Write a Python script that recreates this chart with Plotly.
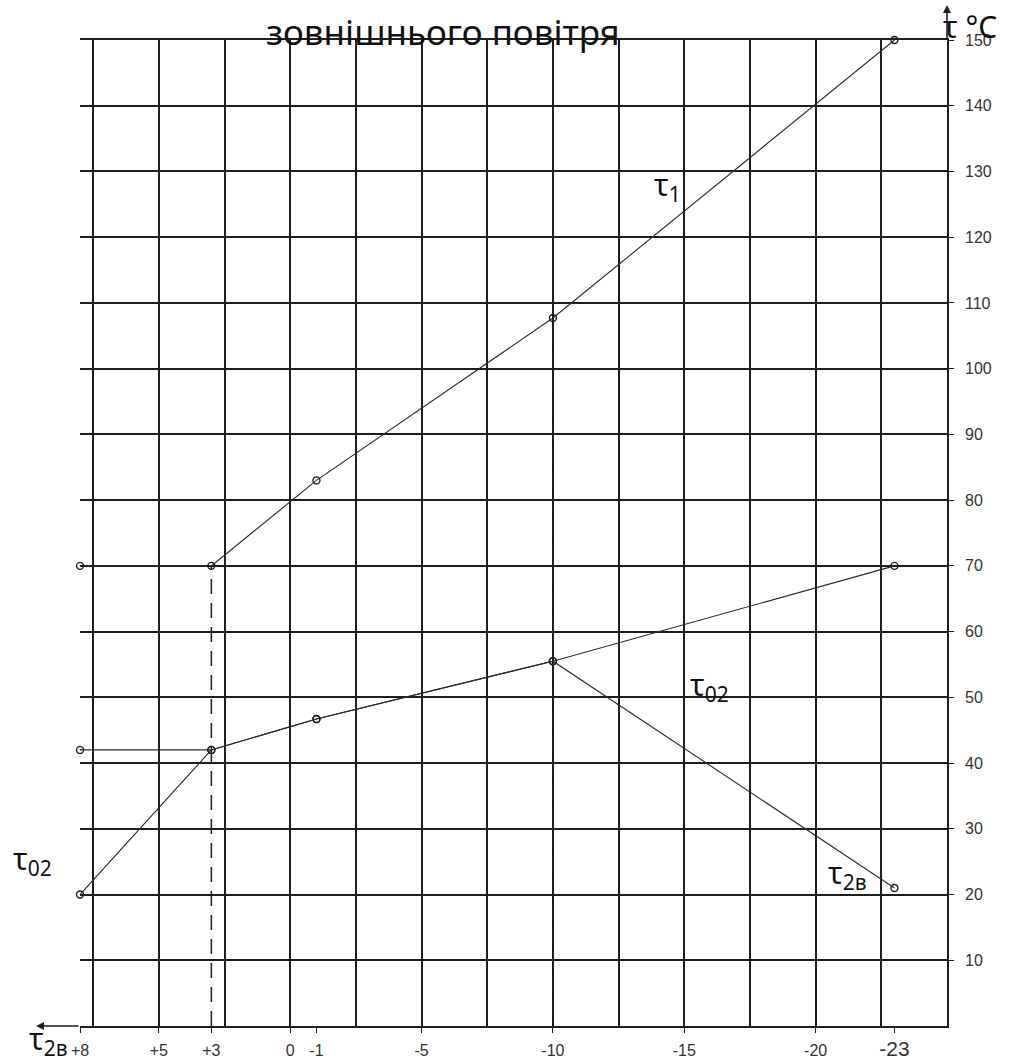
import plotly.graph_objects as go

# Outdoor air temperature (°C) at the characteristic points of the schedule
t_out = [8, 3, -1, -10, -23]

# Water temperatures (°C) at those outdoor temperatures
tau_1 = [70, 70, 83, 107.7, 150]      # supply water
tau_02 = [42, 42, 46.7, 55.5, 70]     # return water
tau_2v = [20, 42, 46.7, 55.5, 21]     # return water after ventilation heaters

# Break points of the schedule (drawn as dashed verticals down to the axis)
t_break = [3, -10]
tau_1_break = [70, 107.7]

# Axis ticks
x_tickvals = [8, 5, 3, 0, -1, -5, -10, -15, -20, -23]
x_ticktext = ["+8", "+5", "+3", "0", "-1", "-5", "-10", "-15", "-20",
              "<span style='font-size:21px'>-23</span>"]
y_tickvals = [10, 20, 30, 40, 50, 60, 70, 80, 90, 100, 110, 120, 130, 140, 150]
y_ticktext = [str(v) for v in y_tickvals]

W, H = 1024, 1061
INK = "#1e1e1e"
LINE = "#2a2a2a"
X_RANGE = [8, -25]     # outdoor temperature falls to the right
Y_RANGE = [0, 150]


def px(x):
    return x / W


def py(y):
    return 1 - y / H


fig = go.Figure()

marker = dict(symbol="circle-open", size=7, color=INK, line=dict(width=1.4, color=INK))

for name, vals in [("τ1", tau_1), ("τ02", tau_02), ("τ2в", tau_2v)]:
    fig.add_trace(go.Scatter(
        x=t_out, y=vals, mode="lines+markers", name=name,
        line=dict(color=LINE, width=1.1), marker=marker,
        cliponaxis=False, showlegend=False, xaxis="x", yaxis="y",
    ))

for tb, yb in zip(t_break, tau_1_break):
    fig.add_trace(go.Scatter(
        x=[tb, tb], y=[0, yb], mode="lines",
        line=dict(color=INK, width=1.5, dash="15px,9px"),
        showlegend=False, xaxis="x2", yaxis="y",
    ))

xdom = [px(80), px(947)]
ydom = [py(1026), py(40)]
tick_font = dict(family="Liberation Sans, Arial, sans-serif", size=16, color="#333")

fig.update_layout(
    width=W, height=H,
    autosize=False,
    margin=dict(l=0, r=0, t=0, b=0, pad=0, autoexpand=False),
    paper_bgcolor="white", plot_bgcolor="white",
    showlegend=False,
    # labelled axis: value ticks along the bottom, frame at top and bottom
    xaxis=dict(
        domain=xdom, range=X_RANGE, autorange=False, automargin=False,
        tickmode="array", tickvals=x_tickvals, ticktext=x_ticktext,
        ticks="outside", ticklen=5, tickwidth=1.3, tickcolor=INK,
        tickfont=tick_font, ticklabelstandoff=4,
        showgrid=False, zeroline=False,
        showline=True, linecolor=INK, linewidth=1.6, mirror=True,
    ),
    # grid axis: a vertical line every 2.5 °C
    xaxis2=dict(
        domain=xdom, range=X_RANGE, autorange=False, overlaying="x", automargin=False,
        tickmode="linear", tick0=0, dtick=2.5,
        showticklabels=False, ticks="",
        showgrid=True, gridcolor=INK, gridwidth=1.6,
        zeroline=False, showline=False,
    ),
    yaxis=dict(
        domain=ydom, range=Y_RANGE, autorange=False, side="right", automargin=False,
        tickmode="array", tickvals=y_tickvals, ticktext=y_ticktext,
        ticks="outside", ticklen=5, tickwidth=1.3, tickcolor=INK,
        tickfont=tick_font, ticklabelstandoff=8,
        showgrid=True, gridcolor=INK, gridwidth=1.6,
        zeroline=False, showline=True, linecolor=INK, linewidth=1.6,
    ),
)

label_font = dict(family="Noto Sans, Open Sans, sans-serif", size=30, color="#111")

annotations = [
    # axis arrows
    dict(x=X_RANGE[1], xref="x", y=py(5), yref="paper", ax=0, ay=36, text="",
         showarrow=True, arrowhead=2, arrowsize=1, arrowwidth=1.6, arrowcolor=INK),
    dict(x=px(36), xref="paper", y=0, yref="y", ax=44, ay=0, text="",
         showarrow=True, arrowhead=2, arrowsize=1, arrowwidth=1.6, arrowcolor=INK),
    # title over the top of the grid
    dict(x=px(443), y=py(31), xref="paper", yref="paper", text="зовнішнього повітря",
         showarrow=False, xanchor="center", yanchor="middle",
         font=dict(family="Noto Sans, sans-serif", size=35, color="#111")),
    # axis names
    dict(x=px(941), y=py(27), xref="paper", yref="paper", text="τ °C",
         showarrow=False, xanchor="left", yanchor="middle", font=label_font),
    dict(x=px(27), y=py(1040), xref="paper", yref="paper", text="τ<sub>2в</sub>",
         showarrow=False, xanchor="left", yanchor="middle", font=label_font),
    # curve labels
    dict(x=px(652), y=py(186), xref="paper", yref="paper", text="τ<sub>1</sub>",
         showarrow=False, xanchor="left", yanchor="middle", font=label_font),
    dict(x=px(688), y=py(686), xref="paper", yref="paper", text="τ<sub>02</sub>",
         showarrow=False, xanchor="left", yanchor="middle", font=label_font),
    dict(x=px(826), y=py(874), xref="paper", yref="paper", text="τ<sub>2в</sub>",
         showarrow=False, xanchor="left", yanchor="middle", font=label_font),
    dict(x=px(11), y=py(860), xref="paper", yref="paper", text="τ<sub>02</sub>",
         showarrow=False, xanchor="left", yanchor="middle", font=label_font),
]
fig.update_layout(annotations=annotations)

fig.write_html("out.html")
